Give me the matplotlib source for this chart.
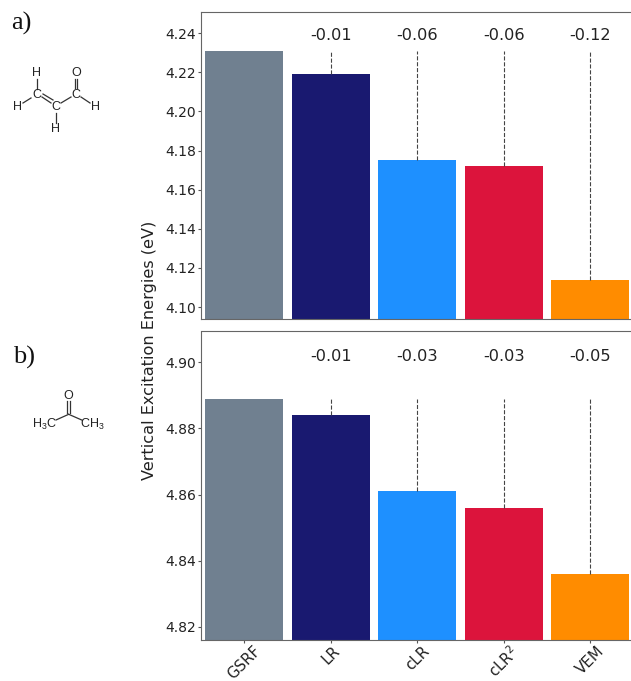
"""vertical excitation energies for acrolein and acetone"""

import matplotlib
matplotlib.use('Agg')
import matplotlib.pyplot as plt

methods = ['GSRF', 'LR', 'cLR', 'cLR$^2$', 'VEM']
colors = ['slategray', 'midnightblue', 'dodgerblue', 'crimson', 'darkorange']

energies_a = [4.231, 4.219, 4.175, 4.172, 4.114]
energies_b = [4.889, 4.884, 4.861, 4.856, 4.836]
shifts_a = ['-0.01', '-0.06', '-0.06', '-0.12']
shifts_b = ['-0.01', '-0.03', '-0.03', '-0.05']

ticks_a = [4.10, 4.12, 4.14, 4.16, 4.18, 4.20, 4.22, 4.24]
ticks_b = [4.82, 4.84, 4.86, 4.88, 4.90]

W, H = 631, 681
plt.rcParams['mathtext.default'] = 'regular'

def px_axes(fig, left, top, right, bottom):
  return fig.add_axes([left/W, 1-bottom/H, (right-left)/W, (bottom-top)/H])

def draw_panel(ax, energies, shifts, ticks, ylim, label_y):
  x = range(len(methods))
  ax.bar(x, energies, width=0.9, color=colors)
  ref = energies[0]
  for i, (e, s) in enumerate(zip(energies[1:], shifts), start=1):
    ax.vlines(i, e, ref, colors='#444444', linestyles='--', linewidth=0.8)
    ax.text(i, label_y, s, ha='center', va='center', fontsize=11.6, color='#222222')
  ax.set_xlim(-0.495, 4.47)
  ax.set_ylim(*ylim)
  ax.set_yticks(ticks, [f'{t:.2f}' for t in ticks])
  ax.tick_params(axis='y', labelsize=10, labelcolor='#222222', color='#555555',
                 length=2.5, pad=1.5)
  ax.spines['right'].set_visible(False)
  for side in ['top', 'left', 'bottom']:
    ax.spines[side].set_color('#666666')

def draw_molecules(fig):
  '''structure sketches and panel letters, in pixel coordinates'''
  ov = fig.add_axes([0, 0, 1, 1])
  ov.set_xlim(0, W)
  ov.set_ylim(H, 0)
  ov.axis('off')
  ov.patch.set_alpha(0)
  ov.text(11, 23, 'a)', family='Liberation Serif', fontsize=19, va='center', color='#111111')
  ov.text(13, 357, 'b)', family='Liberation Serif', fontsize=19, va='center', color='#111111')

  bonds = [
    ((36.7, 79), (36.7, 89)), ((31, 98), (23, 103)), ((42, 97), (51, 103)),
    ((43, 94), (53, 100)), ((61, 103), (71, 97)), ((56, 113), (56, 123)),
    ((74.6, 88), (74.6, 79)), ((77.4, 88), (77.4, 79)), ((81, 97), (90, 103)),
    ((67, 401), (67, 413)), ((70.3, 401), (70.3, 413)), ((68.7, 414.3), (56, 420)),
    ((68.7, 414.3), (81.7, 420)),
  ]
  for p, q in bonds:
    ov.plot([p[0], q[0]], [p[1], q[1]], color='#333333', lw=0.9)
  atoms = [('H', 36.7, 73.3), ('C', 36.7, 95), ('H', 17.3, 106.7), ('C', 56, 106.7),
           ('H', 56, 129), ('C', 76, 95), ('O', 76, 72.7), ('H', 95, 106.7),
           ('O', 68.7, 395.7), ('H$_3$C', 44.7, 424), ('CH$_3$', 92.3, 424)]
  for s, x, y in atoms:
    ov.text(x, y, s, ha='center', va='center', fontsize=9, color='#222222',
            family='Liberation Sans')

fig = plt.figure(figsize=(W/100, H/100), dpi=100)
ax_a = px_axes(fig, 201.5, 11.5, 631, 319)
ax_b = px_axes(fig, 201.5, 331.5, 631, 639.5)

draw_panel(ax_a, energies_a, shifts_a, ticks_a, (4.0939, 4.2511), 4.2388)
draw_panel(ax_b, energies_b, shifts_b, ticks_b, (4.8162, 4.9093), 4.9018)

ax_a.set_xticks(range(len(methods)), [])
ax_a.tick_params(axis='x', length=0)
ax_b.set_xticks(range(len(methods)), methods, rotation=45, fontsize=10.8, color='#222222')
ax_b.tick_params(axis='x', color='#555555', length=2.5, pad=0)

fig.text(149.5/W, 1-350/H, 'Vertical Excitation Energies (eV)', rotation=90,
         ha='center', va='center', fontsize=11.6, color='#222222')
draw_molecules(fig)

fig.savefig('out.png', dpi=100)
